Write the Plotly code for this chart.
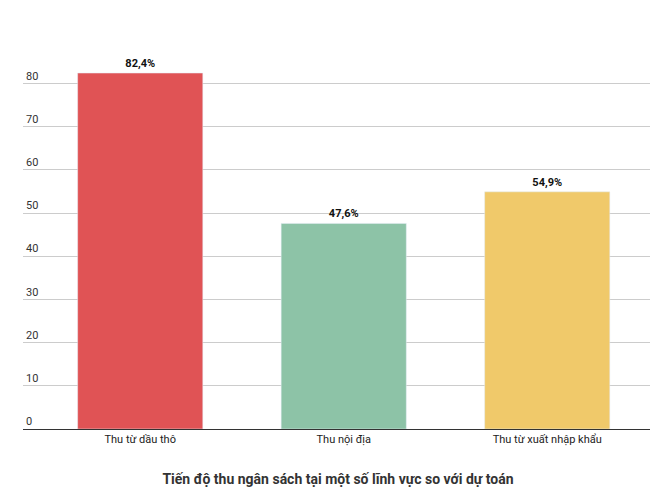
import plotly.graph_objects as go

categories = ["Thu từ dầu thô", "Thu nội địa", "Thu từ xuất nhập khẩu"]
values = [82.4, 47.6, 54.9]
labels = ["82,4%", "47,6%", "54,9%"]
colors = ["#E05355", "#8DC3A7", "#F0C96A"]
yticks = [0, 10, 20, 30, 40, 50, 60, 70, 80, 90]

fig = go.Figure(go.Bar(
    x=categories, y=values, marker_color=colors, text=labels,
    textposition="outside", cliponaxis=False,
    textfont=dict(family="Roboto", size=11, color="#111"),
    texttemplate="<b>%{text}</b>", width=0.615))

fig.update_layout(
    width=660, height=498, margin=dict(l=15, r=18, t=32, b=77, autoexpand=False),
    plot_bgcolor="white", paper_bgcolor="white", showlegend=False,
    font=dict(family="Roboto", color="#333"),
    title=dict(text="<b>Tiến độ thu ngân sách tại một số lĩnh vực so với dự toán</b>",
               x=0.5, xanchor="center", y=0.055, yanchor="middle",
               font=dict(size=14, color="#333")),
)
fig.update_xaxes(range=[-0.576, 2.505], showline=True, linecolor="#333", linewidth=1,
                 tickfont=dict(size=11, color="#222"), ticks="", automargin=False)
fig.update_yaxes(range=[0, 90.05], tickvals=yticks, ticklabelposition="inside top",
                 gridcolor="#cccccc", tickfont=dict(size=11, color="#333"),
                 zeroline=False, automargin=False)
fig.write_html("out.html")
